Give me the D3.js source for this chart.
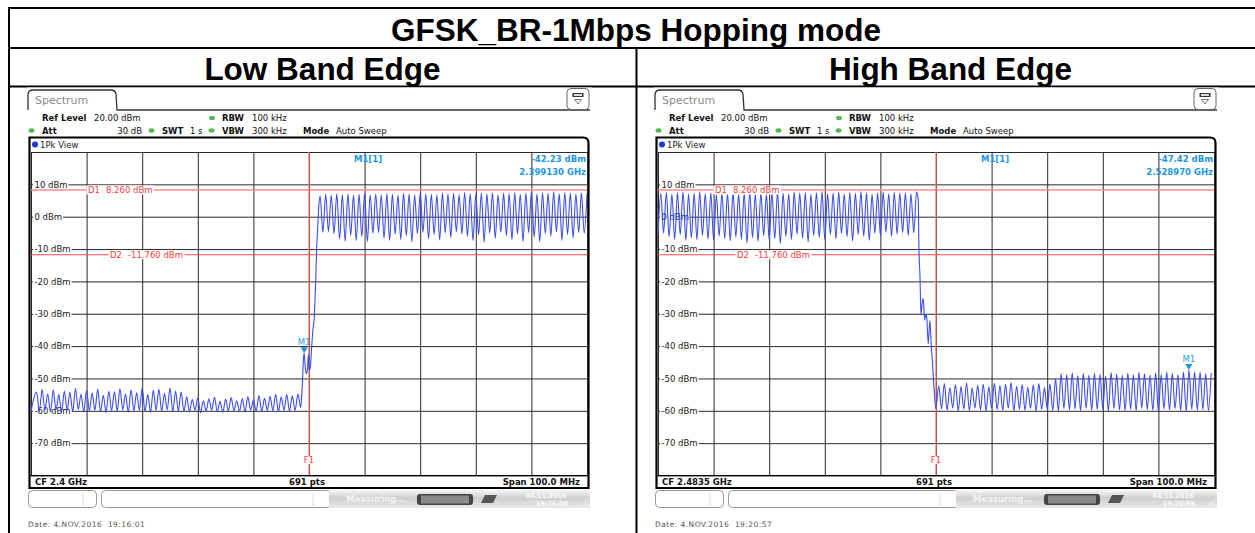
<!DOCTYPE html>
<html><head><meta charset="utf-8">
<script src="https://cdn.jsdelivr.net/npm/d3@7"></script>
<style>
body{margin:0;background:#fff;}
svg{display:block;}
.sa text{font-family:"DejaVu Sans",Verdana,sans-serif;}
</style>
</head><body>
<svg id="c" width="1255" height="533"></svg>
<script>
// ---------------- DATA ----------------
const chartTitle = "GFSK_BR-1Mbps Hopping mode";
const panelTitles = ["Low Band Edge", "High Band Edge"];
const centerFreqMHz = [2400, 2483.5];
const cfLabels = ["CF 2.4 GHz", "CF 2.4835 GHz"];
const spanMHz = 100;
const gridOffsetsMHz = [-50, -40, -30, -20, -10, 0, 10, 20, 30, 40, 50];
const gridDbm = [20, 10, 0, -10, -20, -30, -40, -50, -60, -70, -80];
const yLabelDbm = [10, 0, -10, -20, -30, -40, -50, -60, -70];
const d1Level = 8.26, d2Level = -11.76;
const d1Labels = ["D1", "8.260 dBm"], d2Labels = ["D2", "-11.760 dBm"];
const markerFreqMHz = [2399.13, 2528.97];
const markerLevel = [-42.23, -47.42];
const markerValueText = ["-42.23 dBm", "-47.42 dBm"];
const markerFreqText = ["2.399130 GHz", "2.528970 GHz"];
const dateText = ["Date: 4.NOV.2016  19:16:01", "Date: 4.NOV.2016  19:20:57"];
const clockText = ["19:16:00", "19:20:56"];

// Low band edge trace (dBm)
const lowStart = [2350, -60.2];
const lowSpurFirstMHz = 2351;
const lowSpurPeak = [-54.2,-53.4,-54.8,-53.6,-55.0,-53.9,-54.3,-53.1,-54.9,-53.7,-54.5,-53.3,-55.2,-54.0,-54.1,-53.2,-54.8,-53.5,-54.4,-52.9,-55.0,-53.6,-53.3,-54.7,-53.0,-53.9,-54.2,-55.7,-56.5,-56.0,-56.9,-56.3,-55.8,-57.1,-56.4,-55.9,-57.0,-56.2,-55.6,-56.7,-55.3,-56.1,-55.5,-54.9,-55.7,-55.0,-55.4,-54.8];
const lowSpurTrough = [-60.1,-59.8,-60.3,-59.7,-60.5,-59.9,-60.2,-59.6,-60.4,-60.0,-59.8,-60.3,-60.6,-59.9,-60.1,-59.7,-60.4,-60.0,-59.8,-60.2,-60.5,-59.9,-60.1,-59.7,-60.3,-60.0,-60.2,-60.4,-59.9,-60.6,-60.1,-59.8,-60.3,-60.5,-60.0,-59.9,-60.2,-60.4,-59.8,-60.1,-60.3,-59.9,-60.0,-60.2,-59.8,-60.1,-59.9];
const lowEdge = [[2398.5,-59.0],[2398.7,-55],[2398.85,-50],[2399.0,-44],[2399.13,-42.23],[2399.3,-46],[2399.5,-48.5],[2399.7,-47.5],[2399.9,-42.5],[2400.05,-47.5],[2400.25,-46.5],[2400.45,-41],[2400.7,-35],[2400.95,-31],[2401.2,-20],[2401.4,-9],[2401.55,-4],[2401.75,3]];
const lowChFirstMHz = 2402;
const lowChPeak = [6.4,6.9,6.6,7.1,6.8,7.0,6.6,6.9,7.2,6.7,7.0,6.8,7.1,6.9,6.6,7.2,7.0,6.8,7.3,7.1,6.9,6.7,7.4,7.0,7.2,6.8,7.5,7.1,6.9,7.3,7.0,7.4,6.8,7.2,7.1,7.5,6.9,7.3,7.6,7.0,7.4,7.2,7.7,7.1,7.5,7.3,6.9,7.4,7.2];
const lowChTrough = [-4.8,-4.6,-5.2,-6.9,-7.6,-5.8,-7.4,-6.2,-7.7,-5.1,-4.9,-6.6,-7.3,-5.4,-7.0,-5.9,-7.8,-5.2,-4.8,-6.8,-5.5,-7.2,-5.0,-6.4,-4.7,-5.3,-6.1,-7.4,-5.6,-7.9,-5.0,-6.7,-4.8,-5.9,-7.1,-5.3,-7.7,-4.9,-6.3,-7.8,-5.2,-6.0,-4.7,-7.3,-5.5,-6.6,-4.9,-5.1];

// High band edge trace (dBm)
const highStart = [2433.5, -5.5];
const highChFirstMHz = 2434;
const highChPeak = [7.2,7.5,6.9,7.4,7.6,7.0,7.3,7.7,7.1,7.4,6.8,7.5,7.2,7.6,7.0,7.3,7.8,7.1,7.4,6.9,7.5,7.7,7.2,7.0,7.6,7.3,7.5,6.9,7.4,7.8,7.1,7.3,7.6,7.0,7.5,7.2,7.7,7.4,6.9,7.3,7.6,7.1,7.5,7.2,7.4,7.0,7.6];
const highChTrough = [-5.0,-6.2,-7.0,-5.5,-7.3,-6.6,-7.1,-5.8,-6.9,-7.2,-6.0,-6.8,-7.4,-6.3,-7.0,-8.1,-6.5,-7.6,-5.9,-7.2,-6.8,-8.3,-6.1,-7.0,-5.4,-6.7,-7.9,-5.8,-6.4,-7.1,-5.6,-6.9,-5.2,-6.2,-7.5,-5.5,-6.0,-7.3,-5.1,-5.8,-4.8,-6.1,-5.3,-4.9,-5.7,-5.0];
const highEdge = [[2480.3,5.5],[2480.42,-8.7],[2480.62,-18.5],[2480.8,-30.4],[2481.0,-27],[2481.2,-25.3],[2481.47,-32],[2481.65,-30.2],[2481.83,-31],[2482.1,-39.3],[2482.4,-32],[2482.65,-39.8],[2482.9,-46],[2483.15,-53],[2483.45,-59.3]];
const highSpurFirstMHz = 2484;
const highSpurPeak = [-52.3,-51.6,-52.8,-51.9,-52.5,-51.4,-52.9,-52.1,-51.7,-52.6,-51.5,-52.2,-51.8,-51.3,-52.4,-51.9,-52.7,-52.0,-51.6,-52.8,-51.7,-50.2,-48.6,-48.9,-48.3,-49.2,-48.5,-49.0,-48.4,-48.8,-49.3,-48.2,-48.7,-49.1,-48.4,-48.9,-48.1,-48.6,-49.0,-48.3,-48.8,-48.0,-48.5,-48.9,-48.0,-47.42,-48.0,-48.1,-48.6,-48.3];
const highSpurTrough = [-59.4,-59.8,-59.1,-60.0,-59.5,-59.9,-59.2,-59.7,-60.1,-59.3,-59.6,-59.9,-59.2,-60.0,-59.5,-59.8,-59.3,-60.2,-59.6,-59.4,-59.9,-60.1,-59.3,-59.7,-59.5,-60.0,-59.2,-59.8,-59.6,-59.4,-60.1,-59.3,-59.7,-59.9,-59.5,-60.0,-59.2,-59.6,-59.8,-60.2,-59.4,-59.7,-59.3,-59.9,-60.1,-59.5,-59.8,-59.6,-59.9];

// ---------------- BUILD ----------------
function seq(first, pk, tr) {
  const out = [];
  pk.forEach((v, i) => {
    out.push([first + i, v]);
    if (i < tr.length) out.push([first + i + 0.5, tr[i]]);
  });
  return out;
}
const traces = [
  [lowStart].concat(seq(lowSpurFirstMHz, lowSpurPeak, lowSpurTrough), lowEdge, seq(lowChFirstMHz, lowChPeak, lowChTrough)),
  [highStart].concat(seq(highChFirstMHz, highChPeak, highChTrough), highEdge, seq(highSpurFirstMHz, highSpurPeak, highSpurTrough))
];

const svg = d3.select("#c");
svg.append("rect").attr("width", 1255).attr("height", 533).attr("fill", "#fff");

// table
const T = svg.append("g");
const bigFont = sel => sel.style("font-family", "'Liberation Sans',Arial,sans-serif").style("font-weight", "bold").style("font-size", "31.5px");
T.append("text").attr("x", 636).attr("y", 40.5).attr("text-anchor", "middle").call(bigFont).text(chartTitle);
[322.5, 950.5].forEach((cx, i) => {
  T.append("text").attr("x", cx).attr("y", 79.5).attr("text-anchor", "middle").call(bigFont).text(panelTitles[i]);
});
const lineAttr = sel => sel.attr("stroke", "#000").attr("stroke-width", 2);
T.append("line").attr("x1", 8).attr("x2", 1255).attr("y1", 8).attr("y2", 8).call(lineAttr);
T.append("line").attr("x1", 8).attr("x2", 1255).attr("y1", 48).attr("y2", 48).call(lineAttr);
T.append("line").attr("x1", 8).attr("x2", 1255).attr("y1", 86.5).attr("y2", 86.5).call(lineAttr);
T.append("line").attr("x1", 9).attr("x2", 9).attr("y1", 7).attr("y2", 533).call(lineAttr);
T.append("line").attr("x1", 636.5).attr("x2", 636.5).attr("y1", 48).attr("y2", 533).call(lineAttr);

const defs = svg.append("defs");
const grad = defs.append("linearGradient").attr("id", "gbar").attr("x1", 0).attr("x2", 0).attr("y1", 0).attr("y2", 1);
grad.append("stop").attr("offset", "0").attr("stop-color", "#f6f6f6");
grad.append("stop").attr("offset", "0.45").attr("stop-color", "#cfcfcf");
grad.append("stop").attr("offset", "1").attr("stop-color", "#e9e9e9");

function panel(idx, dx) {
  const g = svg.append("g").attr("class", "sa").attr("transform", `translate(${dx},0)`);
  const cf = centerFreqMHz[idx];
  const x = d3.scaleLinear().domain([cf - spanMHz / 2, cf + spanMHz / 2]).range([31, 587]);
  const y = d3.scaleLinear().domain([-80, 20]).range([475.5, 152]);

  // screenshot background
  g.append("rect").attr("x", 27).attr("y", 87.5).attr("width", 565).attr("height", 425).attr("fill", "#fff");

  // tab
  g.append("path").attr("d", "M28,110 L28,95 Q28,90 33,90 L111,90 Q115,90 116,94 L117,110 L590,110")
    .attr("fill", "none").attr("stroke", "#333").attr("stroke-width", 1.3);
  g.append("text").attr("x", 35).attr("y", 104).attr("fill", "#8a8a8a").style("font-size", "11px").text("Spectrum");
  // icon
  g.append("rect").attr("x", 567).attr("y", 88.5).attr("width", 22).attr("height", 21).attr("rx", 4)
    .attr("fill", "#fff").attr("stroke", "#666").attr("stroke-width", 1);
  g.append("rect").attr("x", 572.5).attr("y", 93).attr("width", 11).attr("height", 4).attr("fill", "#333");
  g.append("rect").attr("x", 574).attr("y", 94).attr("width", 8).attr("height", 2).attr("fill", "#ddd");
  g.append("path").attr("d", "M574.5,99.5 L581.5,99.5 L578,104 Z").attr("fill", "none").attr("stroke", "#555").attr("stroke-width", 0.8);

  // header info
  const fs = "8.5px";
  const hdr = (tx, ty, s, bold, anchor) => g.append("text").attr("x", tx).attr("y", ty)
    .attr("text-anchor", anchor || "start").attr("fill", "#111")
    .style("font-size", fs).style("font-weight", bold ? "bold" : "normal").text(s);
  const dot = (cx, cy) => g.append("ellipse").attr("cx", cx).attr("cy", cy).attr("rx", 3).attr("ry", 2.2).attr("fill", "#58b858");
  hdr(42, 121, "Ref Level", true); hdr(94, 121, "20.00 dBm", false);
  dot(212, 118); hdr(222, 121, "RBW", true); hdr(252, 121, "100 kHz", false);
  dot(31.5, 130.5); hdr(42, 133.5, "Att", true); hdr(142, 133.5, "30 dB", false, "end");
  dot(151.5, 130.5); hdr(162, 133.5, "SWT", true); hdr(190, 133.5, "1 s", false);
  dot(211.5, 130.5); hdr(222, 133.5, "VBW", true); hdr(252, 133.5, "300 kHz", false);
  hdr(303, 133.5, "Mode", true); hdr(336, 133.5, "Auto Sweep", false);

  // frame
  g.append("path").attr("d", "M29.5,488 L29.5,137.5 L583,137.5 Q588.5,137.5 588.5,143 L588.5,488 Z")
    .attr("fill", "#fff").attr("stroke", "#000").attr("stroke-width", 2.2);
  g.append("circle").attr("cx", 35).attr("cy", 144.5).attr("r", 3).attr("fill", "#1a3ad0");
  g.append("text").attr("x", 40).attr("y", 148).attr("fill", "#222").style("font-size", fs).text("1Pk View");

  // grid (axes)
  const gx = g.append("g").attr("transform", "translate(0,475.5)")
    .call(d3.axisBottom(x).tickValues(gridOffsetsMHz.map(o => cf + o)).tickSize(-323.5).tickFormat(""));
  const gy = g.append("g").attr("transform", "translate(31,0)")
    .call(d3.axisLeft(y).tickValues(gridDbm).tickSize(-556).tickFormat(""));
  [gx, gy].forEach(a => { a.select(".domain").remove(); a.selectAll("line").attr("stroke", "#2a2a2a").attr("stroke-width", 1); });

  // y labels with white background
  const yl = g.append("g").attr("transform", "translate(31,0)")
    .call(d3.axisRight(y).tickValues(yLabelDbm).tickSize(0).tickPadding(3.5).tickFormat(d => d + " dBm"));
  yl.select(".domain").remove();
  yl.selectAll("text").attr("fill", "#222").style("font-size", fs).style("font-family", "'DejaVu Sans',Verdana,sans-serif");
  yl.selectAll(".tick").each(function () {
    const t = d3.select(this).select("text").node();
    const b = t.getBBox();
    d3.select(this).insert("rect", "text").attr("x", b.x - 1.5).attr("y", b.y + 1).attr("width", b.width + 2.5).attr("height", b.height - 2).attr("fill", "#fff");
  });

  // display lines
  g.append("line").attr("x1", 31).attr("x2", 587).attr("y1", y(d1Level)).attr("y2", y(d1Level)).attr("stroke", "#ff8a8a").attr("stroke-width", 1.6);
  g.append("line").attr("x1", 31).attr("x2", 587).attr("y1", y(d2Level)).attr("y2", y(d2Level)).attr("stroke", "#ff4848").attr("stroke-width", 1.1);
  // F1 line
  g.append("line").attr("x1", x(cf)).attr("x2", x(cf)).attr("y1", 152).attr("y2", 475.5).attr("stroke", "#ff7070").attr("stroke-width", 1.3);

  // trace
  g.append("clipPath").attr("id", "clip" + idx).append("rect").attr("x", 31).attr("y", 152).attr("width", 556).attr("height", 323.5);
  const line = d3.line().x(d => x(d[0])).y(d => y(d[1])).curve(d3.curveMonotoneX);
  g.append("path").attr("d", line(traces[idx])).attr("clip-path", `url(#clip${idx})`)
    .attr("fill", "none").attr("stroke", "#3a4cf2").attr("stroke-width", 1.1).attr("stroke-linejoin", "round");

  // D labels
  const dLab = (lx, lev, parts) => {
    const t = g.append("text").attr("x", lx).attr("y", y(lev) + 3).attr("fill", "#ff3c3c").style("font-size", fs);
    t.append("tspan").text(parts[0]);
    t.append("tspan").attr("dx", 6).text(parts[1]);
    const b = t.node().getBBox();
    g.insert("rect", () => t.node()).attr("x", b.x - 1.5).attr("y", b.y + 0.5).attr("width", b.width + 3).attr("height", b.height - 1).attr("fill", "#fff");
  };
  dLab(88, d1Level, d1Labels);
  dLab(110, d2Level, d2Labels);
  // F1 label
  const fl = g.append("text").attr("x", x(cf)).attr("y", 463).attr("text-anchor", "middle").attr("fill", "#ff3c3c").style("font-size", fs).text("F1");
  const fb = fl.node().getBBox();
  g.insert("rect", () => fl.node()).attr("x", fb.x).attr("y", fb.y + 1).attr("width", fb.width).attr("height", fb.height - 2).attr("fill", "#fff");

  // marker
  const mx = x(markerFreqMHz[idx]), my = y(markerLevel[idx]);
  g.append("path").attr("d", `M${mx - 3.5},${my - 6} L${mx + 3.5},${my - 6} L${mx},${my} Z`).attr("fill", "#1f96dc");
  g.append("text").attr("x", mx).attr("y", my - 8).attr("text-anchor", "middle").attr("fill", "#2a9ee0").style("font-size", fs).text("M1");
  const mc = "#1f96dc";
  g.append("text").attr("x", 354).attr("y", 162).attr("fill", mc).style("font-size", fs).style("font-weight", "bold").text("M1[1]");
  g.append("text").attr("x", 586).attr("y", 162).attr("text-anchor", "end").attr("fill", mc).style("font-size", fs).style("font-weight", "bold").text(markerValueText[idx]);
  g.append("text").attr("x", 586).attr("y", 175).attr("text-anchor", "end").attr("fill", mc).style("font-size", fs).style("font-weight", "bold").text(markerFreqText[idx]);

  // bottom status row
  g.append("line").attr("x1", 30).attr("x2", 588).attr("y1", 475.5).attr("y2", 475.5).attr("stroke", "#000").attr("stroke-width", 1.2);
  hdr(35, 485, cfLabels[idx], true);
  hdr(x(cf) - 2, 485, "691 pts", true, "middle");
  hdr(580, 485, "Span 100.0 MHz", true, "end");

  // soft-key bar
  g.append("rect").attr("x", 28.5).attr("y", 490.5).attr("width", 68).attr("height", 17).attr("rx", 4).attr("fill", "#fff").attr("stroke", "#999");
  g.append("line").attr("x1", 83).attr("x2", 83).attr("y1", 493).attr("y2", 506).attr("stroke", "#ddd");
  g.append("rect").attr("x", 101.5).attr("y", 490.5).attr("width", 230).attr("height", 17).attr("rx", 4).attr("fill", "#fff").attr("stroke", "#999");
  g.append("line").attr("x1", 313).attr("x2", 313).attr("y1", 493).attr("y2", 506).attr("stroke", "#ddd");
  g.append("rect").attr("x", 329).attr("y", 490).attr("width", 261).attr("height", 18).attr("fill", "url(#gbar)");
  g.append("text").attr("x", 346).attr("y", 502).attr("fill", "#f2f2f2").style("font-size", "8.5px").style("font-weight", "bold").text("Measuring...");
  g.append("rect").attr("x", 417).attr("y", 494).attr("width", 56).attr("height", 11).attr("rx", 3).attr("fill", "#444");
  g.append("rect").attr("x", 421).attr("y", 495.5).attr("width", 48).attr("height", 8).attr("fill", "#8a8a8a");
  g.append("path").attr("d", "M481,503 L485,495 L497,495 L493,503 Z").attr("fill", "#555");
  g.append("text").attr("x", 546).attr("y", 497.5).attr("text-anchor", "middle").attr("fill", "#fafafa").style("font-size", "6.5px").style("font-weight", "bold").text("04.11.2016");
  g.append("text").attr("x", 552).attr("y", 505.5).attr("text-anchor", "middle").attr("fill", "#fafafa").style("font-size", "6.5px").style("font-weight", "bold").text(clockText[idx]);
  [0, 3, 6].forEach(o => g.append("line").attr("x1", 580 + o).attr("y1", 507).attr("x2", 589).attr("y2", 498 + o).attr("stroke", "#f4f4f4").attr("stroke-width", 0.8));

  // date
  g.append("text").attr("x", 28).attr("y", 527).attr("fill", "#555").style("font-size", "7.5px").style("letter-spacing", "0.45px").style("white-space", "pre").text(dateText[idx]);
}
panel(0, 0);
panel(1, 627);
</script>
</body></html>
